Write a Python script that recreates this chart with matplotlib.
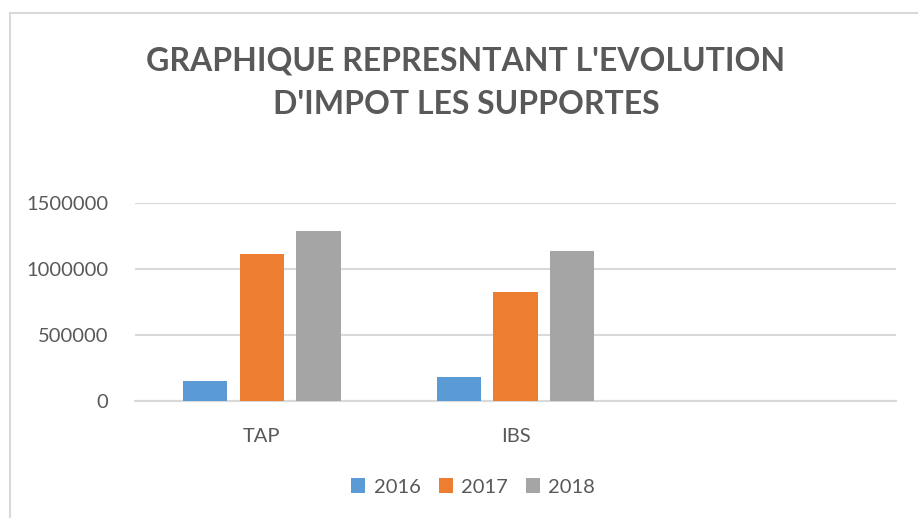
import numpy as np
import matplotlib.pyplot as plt
from matplotlib.lines import Line2D

# Datos
categories = ['TAP', 'IBS', '']
years = ['2016', '2017', '2018']
v2016 = [151000, 181000, 0]
v2017 = [1112000, 824000, 0]
v2018 = [1286000, 1135000, 0]
colors = ['#5B9BD5', '#ED7D31', '#A5A5A5']

plt.rcParams['font.family'] = ['Lato', 'DejaVu Sans']
text_color = '#595959'
grid_color = '#D9D9D9'

fig = plt.figure(figsize=(9.18, 5.18), dpi=100)
ax = fig.add_axes([135 / 918, 117 / 518, 761 / 918, 198.3 / 518])

x = np.arange(len(categories))
width = 0.175
step = 0.223
for i, (vals, yr) in enumerate(zip([v2016, v2017, v2018], years)):
    ax.bar(x + (i - 1) * step, vals, width, color=colors[i], label=yr, zorder=3)

ax.set_xlim(-0.5, 2.5)
ax.set_ylim(0, 1500000)
ax.set_yticks([0, 500000, 1000000, 1500000])
ax.set_yticklabels(['0', '500000', '1000000', '1500000'])
ax.set_xticks(x)
ax.set_xticklabels(categories)
ax.tick_params(axis='both', length=0, labelsize=14.5, colors=text_color)
ax.tick_params(axis='y', pad=19)
ax.tick_params(axis='x', pad=19.5)
ax.grid(axis='y', color=grid_color, linewidth=1.5, zorder=0)
for s in ['top', 'right', 'left']:
    ax.spines[s].set_visible(False)
ax.spines['bottom'].set_color(grid_color)
ax.spines['bottom'].set_linewidth(1.5)

# Titre
fig.text(466 / 918, 1 - 61 / 518, "GRAPHIQUE REPRESNTANT L'EVOLUTION", ha='center', va='center',
         fontsize=23, fontweight='bold', color=text_color)
fig.text(466 / 918, 1 - 104 / 518, "D'IMPOT LES SUPPORTES", ha='center', va='center',
         fontsize=23, fontweight='bold', color=text_color)

# Légende
fig.legend(loc='center', bbox_to_anchor=(473 / 918, 1 - 487 / 518), ncol=3, frameon=False,
           fontsize=14.5, labelcolor=text_color, handlelength=0.7, handleheight=0.7,
           handletextpad=0.4, columnspacing=0.9)

# Bordure du graphique
fig.add_artist(Line2D([10 / 918, 1], [1 - 13 / 518, 1 - 13 / 518], color=grid_color, linewidth=1.5))
fig.add_artist(Line2D([10 / 918, 10 / 918], [0, 1 - 13 / 518], color=grid_color, linewidth=1.5))

fig.savefig('out.png', dpi=100)
